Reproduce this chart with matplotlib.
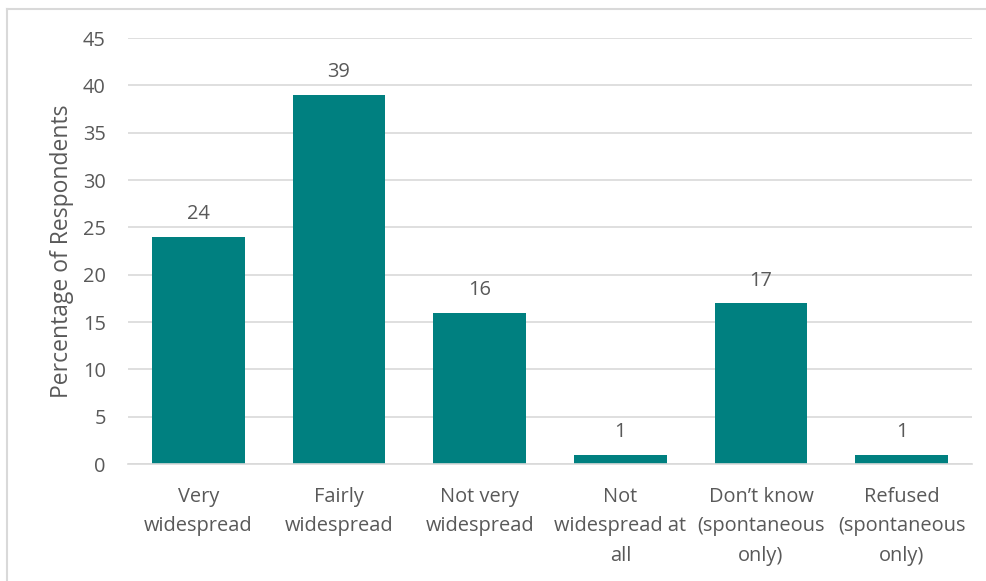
import matplotlib
matplotlib.use("Agg")
import matplotlib.pyplot as plt
from matplotlib.lines import Line2D

categories = [
    "Very\nwidespread",
    "Fairly\nwidespread",
    "Not very\nwidespread",
    "Not\nwidespread at\nall",
    "Don\u2019t know\n(spontaneous\nonly)",
    "Refused\n(spontaneous\nonly)",
]
values = [24, 39, 16, 1, 17, 1]
yticks = [0, 5, 10, 15, 20, 25, 30, 35, 40, 45]

BAR = "#008080"
TEXT = "#595959"
GRID = "#d9d9d9"
FS = 14.4

plt.rcParams["font.family"] = ["Open Sans", "DejaVu Sans"]

W, H = 987, 581
fig = plt.figure(figsize=(W / 100, H / 100), dpi=100)
ax = fig.add_axes([128 / W, 1 - 464 / H, (972 - 128) / W, (464 - 38) / H])

x = list(range(len(categories)))
ax.bar(x, values, width=0.66, color=BAR, zorder=3)
for xi, v in zip(x, values):
    ax.annotate(f"{v}", (xi, v), xytext=(0, 9), textcoords="offset points",
                ha="center", va="bottom", fontsize=FS, color=TEXT)

ax.set_xlim(-0.5, len(categories) - 0.5)
ax.set_ylim(0, 45)
ax.set_yticks(yticks)
ax.set_yticklabels([str(t) for t in yticks], fontsize=FS, color=TEXT)
ax.set_xticks(x)
ax.set_xticklabels(categories, fontsize=FS, color=TEXT, linespacing=1.62)
ax.tick_params(axis="both", length=0)
ax.tick_params(axis="y", pad=16)
ax.tick_params(axis="x", pad=16.5)
ax.yaxis.grid(True, color=GRID, linewidth=1.2, zorder=0)
ax.set_axisbelow(True)
for s in ["top", "right", "left"]:
    ax.spines[s].set_visible(False)
ax.spines["bottom"].set_color(GRID)
ax.spines["bottom"].set_linewidth(1.2)
ax.spines["bottom"].set_zorder(4)

fig.text(62 / W, 1 - 251 / H, "Percentage of Respondents", rotation=90,
         ha="center", va="center", fontsize=16.5, color=TEXT)

# chart frame (left and top edges)
fig.add_artist(Line2D([7.5 / W, 7.5 / W], [0, 1 - 8.5 / H], transform=fig.transFigure,
                      color=GRID, linewidth=1.5))
fig.add_artist(Line2D([7.5 / W, 1], [1 - 8.5 / H, 1 - 8.5 / H], transform=fig.transFigure,
                      color=GRID, linewidth=1.5))

fig.savefig("out.png", dpi=100, facecolor="white")
